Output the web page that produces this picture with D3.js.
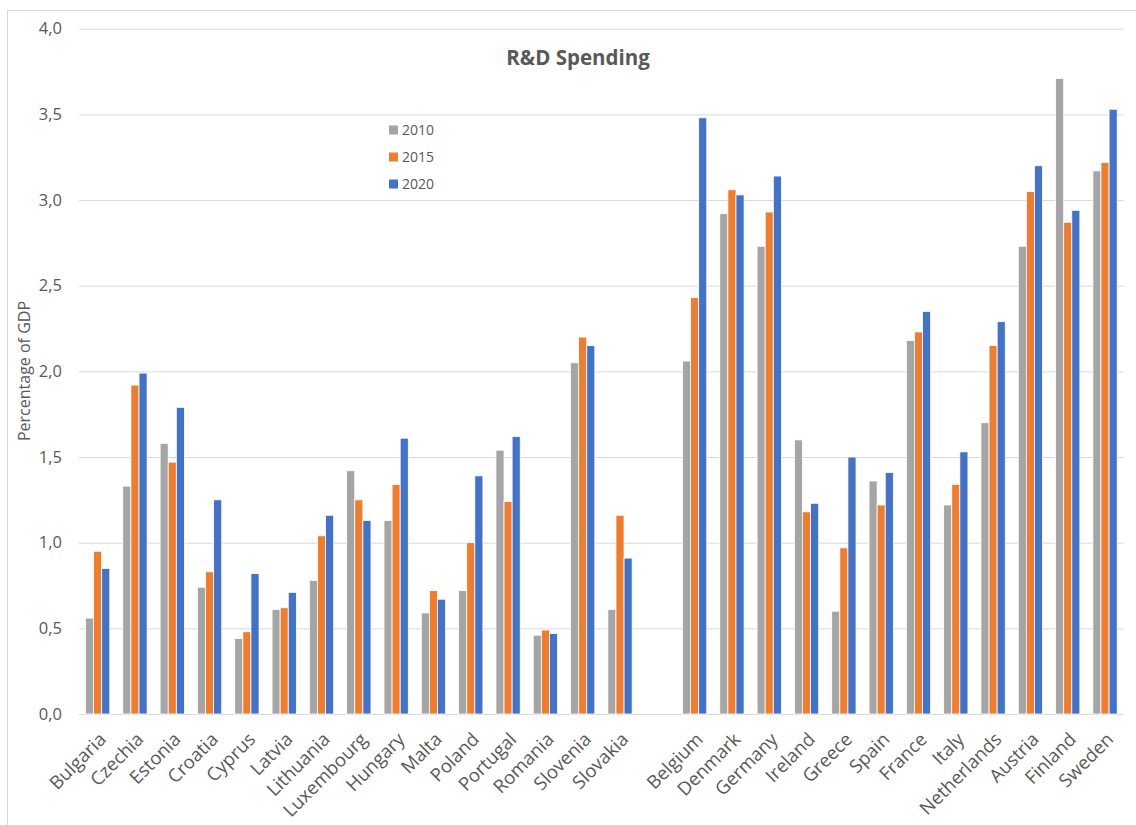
<!DOCTYPE html>
<html>
<head>
<meta charset="utf-8">
<script src="https://cdn.jsdelivr.net/npm/d3@7"></script>
<style>
  html, body { margin: 0; padding: 0; background: #fff; }
  svg { display: block; }
  text { font-family: "Open Sans", "Noto Sans", sans-serif; fill: #595959; }
</style>
</head>
<body>
<svg id="chart" width="1136" height="825"></svg>
<script>
// Countries (empty slot separates the two groups)
const categories = ["Bulgaria","Czechia","Estonia","Croatia","Cyprus","Latvia","Lithuania","Luxembourg","Hungary","Malta","Poland","Portugal","Romania","Slovenia","Slovakia","","Belgium","Denmark","Germany","Ireland","Greece","Spain","France","Italy","Netherlands","Austria","Finland","Sweden"];
const seriesNames = ["2010","2015","2020"];
const values2010 = [0.56,1.33,1.58,0.74,0.44,0.61,0.78,1.42,1.13,0.59,0.72,1.54,0.46,2.05,0.61,null,2.06,2.92,2.73,1.60,0.60,1.36,2.18,1.22,1.70,2.73,3.71,3.17];
const values2015 = [0.95,1.92,1.47,0.83,0.48,0.62,1.04,1.25,1.34,0.72,1.00,1.24,0.49,2.20,1.16,null,2.43,3.06,2.93,1.18,0.97,1.22,2.23,1.34,2.15,3.05,2.87,3.22];
const values2020 = [0.85,1.99,1.79,1.25,0.82,0.71,1.16,1.13,1.61,0.67,1.39,1.62,0.47,2.15,0.91,null,3.48,3.03,3.14,1.23,1.50,1.41,2.35,1.53,2.29,3.20,2.94,3.53];
const yTicks = [0,0.5,1.0,1.5,2.0,2.5,3.0,3.5,4.0];
const colors = ["#A5A5A5","#ED7D31","#4472C4"];

const seriesValues = [values2010, values2015, values2020];
const svg = d3.select("#chart");

// chart frame
svg.append("rect")
  .attr("x", 7.5).attr("y", 10.5)
  .attr("width", 1140).attr("height", 830)
  .attr("fill", "none").attr("stroke", "#D9D9D9");

const plot = { left: 79, right: 1123.7, top: 28.7, bottom: 714 };

const x = d3.scaleBand().domain(d3.range(categories.length))
  .range([plot.left, plot.right]).paddingInner(0).paddingOuter(0);
const groupW = 24.3;
const xs = d3.scaleBand().domain(seriesNames)
  .range([(x.bandwidth() - groupW) / 2, (x.bandwidth() + groupW) / 2]);
const y = d3.scaleLinear().domain([0, 4]).range([plot.bottom, plot.top]);

// gridlines + y labels
const yAxis = d3.axisLeft(y).tickValues(yTicks)
  .tickSize(-(plot.right - plot.left))
  .tickPadding(17)
  .tickFormat(d => d3.format(".1f")(d).replace(".", ","));
const ga = svg.append("g").attr("transform", `translate(${plot.left},0)`).call(yAxis);
ga.select(".domain").remove();
ga.selectAll(".tick line").attr("stroke", "#D9D9D9").attr("stroke-width", 1);
ga.selectAll(".tick text").style("font-size", "16.5px").attr("fill", "#595959");

// bars
seriesNames.forEach((name, si) => {
  const rows = categories.map((c, i) => ({ i, v: seriesValues[si][i] })).filter(d => d.v != null);
  svg.append("g").selectAll("rect").data(rows).join("rect")
    .attr("x", d => x(d.i) + xs(name))
    .attr("y", d => y(d.v))
    .attr("width", xs.bandwidth())
    .attr("height", d => y(0) - y(d.v))
    .attr("fill", colors[si])
    .attr("stroke", "#fff")
    .attr("stroke-width", 0.8);
});

// category labels
svg.append("g").selectAll("text")
  .data(categories.map((c, i) => ({ c, i })).filter(d => d.c !== ""))
  .join("text")
  .attr("transform", d => `translate(${x(d.i) + x.bandwidth() / 2 + 5},${plot.bottom + 22}) rotate(-45)`)
  .attr("text-anchor", "end")
  .attr("dy", "0.35em")
  .style("font-size", "18.5px")
  .text(d => d.c);

// title
svg.append("text")
  .attr("x", 578).attr("y", 65)
  .attr("text-anchor", "middle")
  .style("font-size", "20.5px").style("font-weight", "bold")
  .text("R&D Spending");

// y axis title
svg.append("text")
  .attr("transform", `translate(30,371) rotate(-90)`)
  .attr("text-anchor", "middle")
  .style("font-size", "16px")
  .text("Percentage of GDP");

// legend
const lg = svg.append("g").attr("transform", "translate(389,130)");
seriesNames.forEach((name, i) => {
  const g = lg.append("g").attr("transform", `translate(0,${i * 27})`);
  g.append("rect").attr("x", 0).attr("y", -4.5).attr("width", 9).attr("height", 9).attr("fill", colors[i]);
  g.append("text").attr("x", 13).attr("y", 0).attr("dy", "0.35em")
    .style("font-size", "14px").text(name);
});
</script>
</body>
</html>
